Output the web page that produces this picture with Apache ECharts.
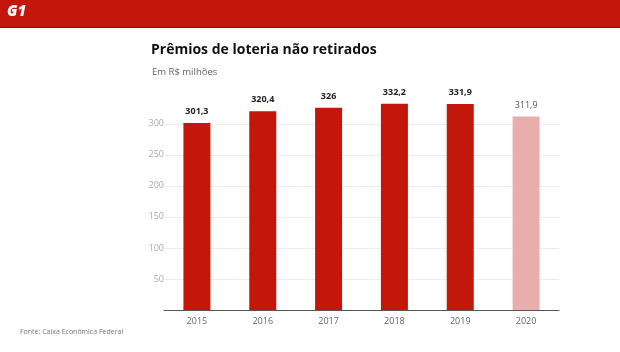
<!DOCTYPE html>
<html>
<head>
<meta charset="utf-8">
<script src="https://cdn.jsdelivr.net/npm/echarts@6/dist/echarts.min.js"></script>
<style>
html,body{margin:0;padding:0;background:#fff;}
#chart{width:620px;height:352px;}
</style>
</head>
<body>
<div id="chart"></div>
<script>
var anos = ['2015', '2016', '2017', '2018', '2019', '2020'];
var valores = [301.3, 320.4, 326, 332.2, 331.9, 311.9];
var rotulos = ['301,3', '320,4', '326', '332,2', '331,9', '311,9'];
var ticksY = [50, 100, 150, 200, 250, 300];

var vermelho = '#c4170c';
var rosa = '#e8aeab';

var dados = valores.map(function (v, i) {
    var ultimo = i == valores.length - 1;
    return {
        value: v,
        itemStyle: { color: ultimo ? rosa : vermelho },
        label: {
            formatter: rotulos[i],
            color: ultimo ? '#555' : '#222',
            fontWeight: ultimo ? 'normal' : 'bold'
        }
    };
});

var myChart = echarts.init(document.getElementById('chart'));
var option = {
    animation: false,
    textStyle: { fontFamily: 'Open Sans' },
    graphic: [
        { type: 'rect', shape: { x: 0, y: 0, width: 620, height: 27 }, style: { fill: vermelho } },
        { type: 'rect', shape: { x: 0, y: 27, width: 620, height: 1 }, style: { fill: '#8e120a' } },
        { type: 'text', left: 7, top: 4, style: { text: 'G1', fill: '#fff', font: 'italic 900 15px "Open Sans"' } },
        { type: 'text', left: 151, top: 43, style: { text: 'Prêmios de loteria não retirados', fill: '#111', font: 'bold 14px "Open Sans"' } },
        { type: 'text', left: 152, top: 67, style: { text: 'Em R$ milhões', fill: '#666', font: '9.5px "Open Sans"' } },
        { type: 'text', left: 20, top: 328, style: { text: 'Fonte: Caixa Econômica Federal', fill: '#777', font: '7px "Open Sans"' } }
    ],
    grid: { left: 164, right: 61, top: 99, bottom: 42 },
    xAxis: {
        type: 'category',
        data: anos,
        axisLine: { lineStyle: { color: '#555', width: 1 } },
        axisTick: { show: false },
        axisLabel: { color: '#666', fontSize: 9, margin: 7 }
    },
    yAxis: {
        type: 'value',
        min: 0,
        max: 340,
        interval: 50,
        axisLine: { show: false },
        axisTick: { show: false },
        axisLabel: {
            color: '#aaa',
            fontSize: 9,
            margin: 0,
            showMaxLabel: false,
            formatter: function (v) { return ticksY.indexOf(v) >= 0 ? String(v) : ''; }
        },
        splitLine: {
            lineStyle: { color: '#ececec' },
            showMinLine: false,
            showMaxLine: false
        }
    },
    series: [{
        type: 'bar',
        data: dados,
        barWidth: 27,
        label: { show: true, position: 'top', distance: 7, fontSize: 9 }
    }]
};
myChart.setOption(option);
</script>
</body>
</html>
